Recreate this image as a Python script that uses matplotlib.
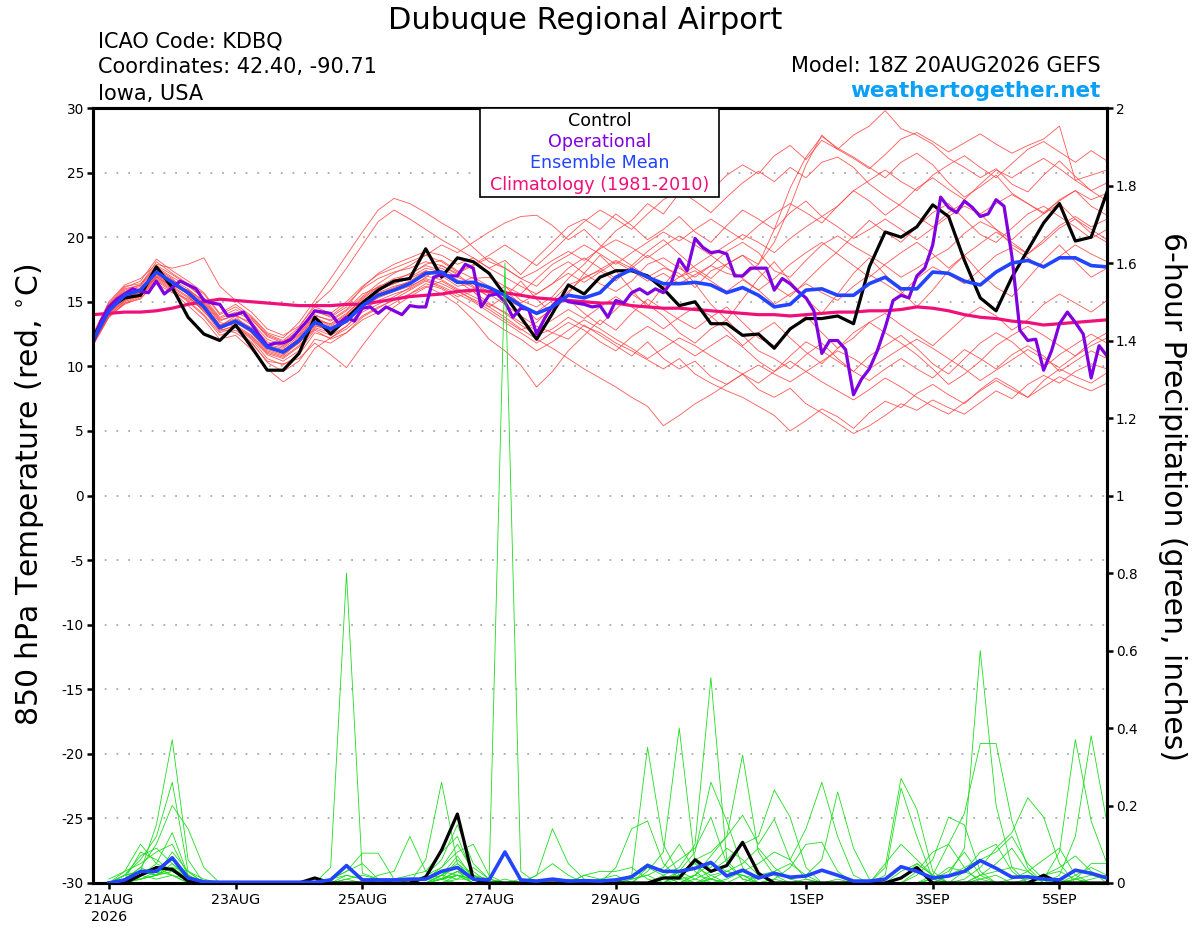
import matplotlib
matplotlib.use("Agg")
import matplotlib.pyplot as plt
import matplotlib.patches as mpatches
import pandas as pd

plt.rcParams["font.family"] = ["DejaVu Sans"]
plt.rcParams["mathtext.fontset"] = "dejavusans"

# 6-hourly GEFS output, 18Z 20AUG2026 run
times = pd.date_range("2026-08-20 18:00", periods=65, freq="6h")
times_3h = pd.date_range("2026-08-20 18:00", periods=129, freq="3h")
precip_times = times[1:]

# 850 hPa temperature (C)
control_t = [12.2, 14.5, 15.3, 15.5, 17.7, 16.1, 13.8, 12.5, 12.0, 13.2,
             11.5, 9.7, 9.7, 11.0, 13.8, 12.5, 13.7, 14.9, 15.9, 16.6,
             16.8, 19.1, 16.9, 18.4, 18.1, 17.2, 15.5, 13.8, 12.1, 14.1,
             16.3, 15.6, 16.9, 17.4, 17.4, 17.0, 16.0, 14.7, 15.0, 13.3,
             13.3, 12.4, 12.5, 11.4, 12.9, 13.7, 13.7, 13.9, 13.3, 17.7,
             20.4, 20.0, 20.8, 22.5, 21.6, 18.2, 15.3, 14.3, 16.9, 19.0,
             21.1, 22.6, 19.7, 20.0, 23.5]

mean_t = [12.0, 14.3, 15.5, 15.9, 17.3, 16.5, 15.7, 14.6, 13.0, 13.5,
          12.8, 11.5, 11.1, 12.0, 13.4, 12.9, 13.5, 14.7, 15.5, 15.9,
          16.4, 17.2, 17.3, 16.5, 16.5, 16.1, 15.5, 14.7, 14.1, 14.6,
          15.5, 15.3, 15.7, 16.9, 17.5, 16.9, 16.4, 16.4, 16.5, 16.3,
          15.7, 16.1, 15.5, 14.6, 14.8, 15.9, 16.0, 15.5, 15.5, 16.4,
          16.9, 16.0, 16.0, 17.3, 17.2, 16.6, 16.3, 17.3, 18.0, 18.2,
          17.7, 18.4, 18.4, 17.8, 17.7]

climo_t = [14.0, 14.1, 14.2, 14.2, 14.3, 14.5, 14.8, 15.0, 15.2, 15.1,
           15.0, 14.9, 14.8, 14.7, 14.7, 14.7, 14.8, 14.8, 15.0, 15.2,
           15.4, 15.5, 15.6, 15.8, 15.9, 15.8, 15.7, 15.5, 15.3, 15.2,
           15.1, 15.0, 14.9, 14.9, 14.7, 14.6, 14.5, 14.5, 14.4, 14.3,
           14.2, 14.1, 14.0, 14.0, 13.9, 14.0, 14.1, 14.2, 14.2, 14.3,
           14.3, 14.4, 14.6, 14.5, 14.3, 14.0, 13.8, 13.7, 13.5, 13.4,
           13.2, 13.3, 13.4, 13.5, 13.6]

# operational run, 3-hourly
operational_t = [11.8, 13.5, 14.6, 15.2, 15.6, 16.0, 15.8, 15.7, 16.6, 15.6,
                 16.1, 16.6, 16.3, 16.0, 15.1, 14.9, 14.8, 13.9, 14.0, 14.2,
                 13.3, 12.4, 11.6, 11.8, 11.8, 12.1, 12.8, 13.5, 14.3, 14.2,
                 14.1, 13.3, 13.8, 13.5, 14.5, 14.6, 14.1, 14.6, 14.3, 14.0,
                 14.7, 14.6, 14.6, 16.9, 17.1, 17.0, 17.0, 17.9, 17.6, 14.6,
                 15.5, 15.6, 15.0, 13.8, 14.5, 14.4, 12.5, 13.7, 14.7, 15.3,
                 15.0, 14.9, 14.8, 14.6, 14.7, 13.8, 15.1, 14.9, 15.7, 16.0,
                 15.6, 16.0, 15.7, 16.5, 18.3, 17.4, 19.9, 19.2, 18.8, 18.9,
                 18.7, 17.0, 17.0, 17.6, 17.6, 17.6, 15.9, 16.8, 16.4, 15.8,
                 15.3, 14.3, 11.0, 12.0, 12.0, 11.3, 7.8, 9.0, 9.8, 11.2,
                 13.0, 15.1, 15.5, 15.3, 17.0, 17.6, 19.4, 23.1, 22.3, 21.9,
                 22.8, 22.3, 21.6, 21.8, 22.9, 22.4, 18.5, 12.8, 12.0, 12.1,
                 9.7, 11.2, 13.3, 14.2, 13.4, 12.5, 9.1, 11.6, 10.8]

temp_members = [
    [12.1, 14.6, 15.8, 16.2, 17.6, 16.8, 15.5, 14.2, 13.1, 13.9, 12.6, 11.2, 10.8,
     11.9, 13.6, 13.3, 14.1, 15.2, 16.1, 16.8, 17.1, 17.9, 18.2, 17.4, 16.8, 16.9,
     16.2, 15.1, 14.6, 15.4, 16.8, 17.9, 19.2, 20.5, 21.3, 22.6, 21.8, 23.4, 24.1,
     23.6, 24.8, 25.6, 24.9, 26.3, 27.1, 26.0, 27.5, 26.8, 27.9, 28.6, 29.8, 28.4,
     27.9, 27.2, 26.1, 25.4, 24.6, 25.3, 24.1, 23.5, 24.8, 25.9, 24.7, 23.6, 24.2],
    [11.8, 13.9, 15.1, 15.6, 16.9, 16.2, 15.9, 14.9, 13.4, 13.1, 12.2, 10.9, 10.4,
     11.2, 12.8, 12.1, 12.6, 13.8, 14.5, 15.2, 15.9, 16.6, 16.1, 15.4, 15.8, 14.9,
     14.1, 13.2, 12.4, 12.9, 13.8, 13.1, 12.6, 11.8, 11.2, 10.5, 9.8, 10.6, 9.4,
     8.7, 8.1, 7.6, 6.9, 6.2, 5.0, 5.8, 6.7, 6.1, 5.2, 6.4, 7.3, 6.8,
     7.9, 8.6, 7.8, 7.1, 8.2, 9.1, 8.4, 7.6, 8.9, 9.8, 9.2, 8.7, 9.5],
    [12.3, 14.8, 16.1, 16.6, 18.3, 17.4, 16.6, 15.7, 14.1, 14.8, 13.9, 12.6, 12.2,
     13.4, 15.1, 16.8, 18.6, 20.4, 22.1, 23.0, 22.6, 21.9, 21.1, 20.4, 19.2, 18.1,
     17.6, 16.8, 16.2, 17.4, 18.1, 17.2, 16.4, 15.8, 16.6, 17.9, 18.4, 17.6, 16.9,
     17.8, 18.9, 19.6, 18.8, 17.4, 16.9, 18.2, 19.4, 20.1, 19.3, 18.6, 17.8, 16.9,
     17.6, 18.4, 19.1, 20.3, 21.2, 20.6, 19.4, 18.7, 19.8, 20.9, 21.6, 20.8, 21.4],
    [11.6, 13.8, 14.9, 15.2, 16.6, 15.8, 14.7, 13.6, 12.1, 12.4, 11.3, 9.8, 8.8,
     9.6, 11.4, 12.2, 13.1, 14.2, 14.8, 15.4, 16.1, 16.9, 17.8, 17.1, 16.2, 15.4,
     15.9, 14.8, 13.6, 14.4, 15.8, 16.9, 17.4, 16.6, 17.8, 16.9, 17.6, 17.2, 16.1,
     17.4, 17.9, 18.6, 17.9, 20.6, 23.8, 26.2, 27.8, 26.9, 26.2, 25.4, 24.6, 25.8,
     26.5, 25.6, 24.2, 23.1, 23.9, 24.8, 23.4, 22.6, 21.8, 22.9, 23.6, 22.4, 21.7],
    [12.0, 14.2, 15.3, 15.8, 17.1, 16.4, 15.9, 15.1, 13.6, 13.9, 13.4, 12.1, 11.6,
     12.4, 13.9, 13.6, 14.4, 15.6, 16.1, 16.4, 16.8, 17.4, 17.0, 16.2, 16.4, 15.6,
     14.8, 13.9, 13.1, 12.6, 12.1, 13.2, 12.4, 11.6, 10.8, 11.9, 10.6, 9.8, 10.4,
     9.2, 8.6, 9.4, 8.2, 7.6, 8.3, 7.1, 6.4, 5.6, 4.8, 5.4, 6.2, 7.1,
     6.6, 7.4, 6.8, 6.3, 7.2, 8.1, 7.5, 8.6, 9.3, 8.7, 9.6, 10.2, 9.8],
    [12.4, 14.9, 16.2, 16.4, 17.8, 17.1, 16.3, 15.2, 13.7, 14.2, 13.6, 12.4, 11.9,
     12.8, 14.3, 13.8, 14.6, 16.1, 17.2, 17.9, 18.4, 18.9, 18.6, 17.9, 18.4, 17.6,
     18.2, 17.1, 18.4, 19.6, 20.8, 21.4, 20.6, 21.8, 20.9, 19.8, 20.6, 21.6, 20.4,
     19.6, 20.9, 22.1, 21.4, 20.6, 21.9, 22.8, 21.6, 22.4, 23.6, 22.8, 21.7, 22.6,
     23.8, 24.6, 23.7, 22.9, 24.1, 25.2, 24.6, 25.4, 26.1, 25.3, 24.4, 23.6, 22.8],
    [11.9, 14.1, 15.2, 15.4, 16.8, 16.0, 15.1, 14.0, 12.6, 13.0, 12.1, 10.6, 10.1,
     10.9, 12.6, 12.2, 12.9, 13.9, 14.6, 15.1, 15.6, 16.2, 15.6, 14.8, 13.6, 12.1,
     11.2, 10.1, 8.4, 9.6, 11.2, 12.4, 13.6, 12.8, 14.1, 15.2, 14.4, 13.6, 12.9,
     13.8, 14.6, 13.4, 12.2, 11.6, 12.8, 13.9, 12.6, 11.4, 12.2, 13.4, 14.1, 13.2,
     12.4, 11.6, 12.7, 13.8, 14.6, 13.9, 12.8, 13.6, 14.8, 15.6, 14.9, 14.2, 15.1],
    [12.2, 14.4, 15.6, 16.0, 17.5, 16.7, 16.0, 15.0, 13.5, 14.0, 13.2, 11.9, 11.5,
     12.5, 14.0, 13.5, 14.3, 15.4, 16.4, 17.2, 17.8, 18.6, 19.4, 18.8, 19.6, 20.4,
     21.1, 21.6, 21.7, 20.9, 19.8, 20.6, 19.4, 18.6, 17.8, 18.9, 19.8, 18.7, 17.6,
     16.8, 17.9, 18.6, 17.4, 16.2, 15.4, 16.6, 17.8, 18.9, 20.1, 21.3, 20.4, 19.6,
     20.8, 21.9, 22.6, 21.4, 20.2, 19.6, 20.7, 21.8, 22.4, 21.6, 20.8, 19.9, 20.6],
    [11.7, 13.9, 14.8, 15.3, 16.4, 15.7, 15.2, 14.4, 12.9, 12.6, 11.8, 10.4, 10.2,
     10.6, 11.8, 10.9, 9.9, 11.6, 13.2, 14.6, 15.4, 16.1, 16.6, 15.9, 15.1, 14.4,
     13.6, 12.8, 13.4, 14.6, 15.2, 14.1, 13.2, 14.4, 15.6, 14.8, 13.9, 12.6, 11.8,
     12.9, 13.6, 12.4, 11.2, 10.6, 9.8, 10.9, 11.8, 10.6, 9.6, 10.8, 11.6, 12.4,
     11.4, 10.2, 9.4, 10.6, 11.8, 12.6, 11.9, 10.8, 9.9, 10.9, 11.7, 12.5, 11.8],
    [12.0, 14.3, 15.4, 16.1, 17.2, 16.6, 15.6, 14.8, 13.2, 13.3, 12.9, 11.6, 11.3,
     12.1, 13.2, 12.7, 13.8, 14.9, 15.7, 16.2, 16.5, 17.1, 17.6, 16.9, 16.4, 15.8,
     15.2, 14.6, 14.2, 15.1, 16.3, 16.8, 17.5, 18.2, 17.6, 16.8, 16.1, 16.9, 17.4,
     16.6, 15.8, 16.7, 15.9, 14.8, 15.6, 16.4, 15.7, 15.1, 16.2, 17.1, 16.4, 15.6,
     16.8, 17.7, 17.1, 16.4, 17.5, 18.6, 19.2, 18.4, 17.6, 18.5, 19.4, 18.7, 18.1],
    [12.1, 14.5, 15.7, 15.8, 17.4, 16.6, 15.8, 14.7, 13.0, 13.6, 12.9, 11.4, 11.0,
     11.8, 13.3, 12.8, 13.6, 14.8, 15.6, 16.1, 16.6, 17.4, 17.1, 16.4, 16.9, 16.2,
     15.6, 14.9, 15.6, 16.4, 17.2, 16.5, 17.3, 18.1, 17.4, 16.6, 17.2, 16.4, 17.1,
     17.8, 17.2, 16.9, 17.9, 19.6, 22.4, 25.6, 27.9, 26.8, 26.1, 25.3, 26.4, 27.6,
     28.1, 27.4, 26.6, 27.3, 28.0, 27.2, 26.5, 27.1, 27.6, 28.6, 24.4, 24.8, 25.2],
    [11.8, 14.0, 15.0, 15.5, 16.9, 16.1, 15.3, 14.5, 12.8, 13.1, 12.3, 11.0, 10.6,
     11.5, 12.9, 12.4, 13.1, 14.4, 15.1, 15.6, 16.0, 16.7, 16.2, 15.6, 15.0, 14.2,
     13.4, 12.6, 11.8, 12.6, 13.4, 12.8, 11.9, 11.2, 12.3, 13.1, 12.4, 11.6, 10.8,
     11.6, 12.4, 11.5, 10.4, 9.6, 10.8, 11.9, 11.2, 10.4, 9.6, 8.9, 9.8, 10.6,
     9.8, 9.1, 10.2, 11.3, 10.6, 9.8, 10.9, 11.6, 10.8, 9.6, 10.4, 11.2, 10.6],
    [12.5, 15.0, 16.3, 16.8, 17.9, 17.6, 17.9, 18.4, 16.2, 15.1, 14.2, 12.9, 12.4,
     13.1, 14.6, 14.1, 15.0, 16.2, 17.1, 17.6, 18.1, 18.6, 18.1, 17.3, 17.9, 18.6,
     19.4, 18.6, 17.8, 18.9, 20.1, 21.2, 22.1, 21.4, 20.6, 21.8, 22.9, 23.6, 22.8,
     21.9, 23.1, 24.2, 25.1, 24.3, 25.4, 24.6, 25.8, 26.2, 25.4, 24.1, 23.2, 22.4,
     21.6, 20.8, 21.9, 22.7, 21.8, 20.6, 19.8, 20.9, 21.8, 22.6, 21.4, 20.3, 19.6],
    [11.9, 14.1, 15.1, 15.6, 17.0, 16.2, 15.4, 14.3, 12.7, 13.2, 12.4, 11.1, 10.7,
     11.6, 13.0, 12.6, 13.4, 14.6, 15.3, 15.8, 16.2, 16.8, 16.4, 15.8, 15.2, 14.6,
     13.8, 12.9, 12.1, 11.4, 10.6, 9.8, 9.1, 8.4, 7.6, 6.9, 5.4, 6.2, 7.1,
     7.8, 8.6, 9.4, 10.1, 9.4, 8.8, 9.6, 10.4, 11.2, 10.6, 9.8, 10.6, 11.4,
     12.1, 11.4, 10.6, 9.8, 8.9, 9.7, 10.5, 11.3, 10.6, 9.9, 10.8, 11.6, 12.2],
    [12.2, 14.7, 16.0, 16.3, 17.7, 16.9, 16.2, 15.3, 13.8, 14.4, 13.7, 12.3, 11.8,
     12.7, 14.2, 13.9, 14.8, 16.0, 16.8, 17.3, 17.6, 18.1, 17.8, 17.2, 17.8, 18.4,
     17.6, 16.8, 17.4, 18.2, 18.9, 18.2, 19.1, 19.8, 19.2, 18.4, 19.3, 20.1, 19.4,
     18.6, 19.4, 20.2, 19.6, 18.8, 19.9, 20.8, 21.6, 20.8, 19.9, 20.6, 21.4, 20.6,
     19.8, 20.7, 21.6, 22.4, 21.8, 22.6, 23.3, 22.6, 21.9, 22.8, 23.6, 22.9, 23.4],
    [12.0, 14.4, 15.4, 15.7, 17.3, 16.3, 15.6, 14.6, 13.1, 13.6, 12.7, 11.5, 11.2,
     12.2, 13.8, 13.2, 14.0, 15.3, 16.2, 16.6, 17.2, 17.8, 17.4, 16.6, 15.8, 14.6,
     15.4, 16.6, 15.2, 14.1, 15.6, 17.2, 18.6, 17.4, 15.9, 14.6, 16.2, 17.8, 16.4,
     14.8, 13.6, 15.2, 16.8, 18.1, 16.6, 15.2, 14.1, 15.6, 17.2, 18.4, 17.1, 15.8,
     14.6, 15.9, 17.4, 18.6, 17.2, 16.1, 15.4, 16.8, 18.2, 19.4, 18.1, 16.9, 17.6],
    [12.1, 14.3, 15.5, 16.0, 17.2, 16.5, 15.8, 14.8, 13.2, 13.7, 13.0, 11.7, 11.4,
     12.3, 13.7, 13.1, 13.9, 15.1, 15.9, 16.4, 16.9, 17.6, 17.3, 16.7, 16.1, 15.4,
     16.2, 15.6, 16.8, 17.9, 18.6, 19.4, 18.7, 17.9, 18.8, 19.6, 20.4, 19.7, 20.6,
     21.4, 20.6, 19.8, 20.9, 21.8, 22.6, 21.9, 21.1, 22.4, 23.6, 24.4, 25.2, 24.3,
     23.6, 24.8, 25.6, 26.3, 25.4, 24.6, 25.7, 26.8, 27.4, 26.6, 25.8, 26.7, 25.9],
    [11.9, 14.2, 15.3, 15.7, 17.0, 16.4, 15.6, 14.5, 12.9, 13.4, 12.6, 11.3, 10.9,
     11.8, 13.1, 12.9, 13.7, 14.8, 15.6, 16.0, 16.5, 17.0, 16.7, 16.0, 15.4, 14.8,
     14.2, 13.4, 12.8, 13.6, 14.4, 13.7, 14.6, 15.4, 14.6, 13.8, 12.9, 13.8, 14.6,
     13.9, 12.8, 11.6, 12.6, 13.4, 12.2, 11.1, 10.2, 11.4, 12.6, 13.4, 12.6, 11.8,
     10.9, 9.8, 8.6, 9.4, 10.4, 11.6, 12.4, 13.1, 12.4, 11.6, 10.8, 11.9, 12.6],
    [12.3, 14.6, 15.9, 16.3, 18.1, 17.2, 16.4, 15.6, 14.0, 14.6, 13.8, 12.5, 12.0,
     13.0, 14.8, 15.9, 17.6, 19.4, 21.2, 22.1, 21.4, 20.6, 19.8, 19.1, 18.4, 17.6,
     16.9, 16.2, 15.6, 16.4, 17.6, 18.4, 17.6, 16.8, 17.6, 18.6, 17.8, 16.9, 17.8,
     18.6, 17.7, 16.8, 15.9, 16.8, 17.9, 18.8, 19.6, 18.7, 17.8, 16.9, 17.9, 18.8,
     19.6, 18.7, 17.6, 18.6, 19.5, 20.4, 19.6, 18.7, 19.6, 20.7, 21.4, 20.6, 19.8],
    [11.7, 13.8, 14.9, 15.4, 16.7, 15.9, 15.0, 13.9, 12.4, 12.8, 11.9, 10.3, 9.6,
     10.4, 12.1, 11.8, 12.6, 13.6, 14.2, 14.9, 15.6, 16.4, 16.0, 15.2, 14.4, 13.6,
     12.8, 12.1, 11.2, 11.9, 12.8, 13.6, 12.9, 12.1, 11.4, 10.6, 11.4, 12.2, 11.6,
     10.8, 10.1, 9.4, 8.7, 9.6, 10.4, 9.6, 8.8, 8.1, 7.4, 8.2, 9.1, 8.4,
     7.6, 6.9, 6.3, 7.2, 8.1, 8.9, 8.2, 7.6, 8.4, 9.2, 8.6, 8.1, 8.7],
]

# 6-hour precipitation (inches), valid 21AUG 00Z onward
control_p = [0, 0, 0.02, 0.04, 0.035, 0.005, 0, 0,
             0, 0, 0, 0, 0, 0.013, 0, 0,
             0, 0, 0, 0, 0.015, 0.085, 0.178, 0.01,
             0, 0, 0, 0, 0, 0, 0, 0,
             0, 0, 0, 0.013, 0.013, 0.06, 0.03, 0.045,
             0.105, 0.025, 0, 0, 0, 0, 0, 0,
             0, 0, 0.013, 0.04, 0, 0, 0, 0,
             0, 0, 0, 0.02, 0, 0, 0, 0]

mean_p = [0, 0.008, 0.03, 0.03, 0.065, 0.013, 0.003, 0.002,
          0.002, 0.002, 0.002, 0.002, 0.002, 0.002, 0.008, 0.045,
          0.008, 0.008, 0.008, 0.01, 0.01, 0.03, 0.04, 0.01,
          0.008, 0.08, 0.008, 0.005, 0.01, 0.005, 0.006, 0.005,
          0.008, 0.016, 0.045, 0.03, 0.03, 0.038, 0.053, 0.018,
          0.033, 0.013, 0.025, 0.015, 0.018, 0.033, 0.02, 0.005,
          0.005, 0.01, 0.042, 0.03, 0.013, 0.018, 0.03, 0.058,
          0.038, 0.015, 0.016, 0.01, 0.008, 0.033, 0.025, 0.013]

precip_members = [
    [0, 0.01, 0.03, 0.15, 0.37, 0.06, 0, 0, 0, 0, 0, 0, 0, 0, 0.01, 0.02,
     0.01, 0, 0, 0, 0.01, 0.03, 0.02, 0, 0, 0, 0.01, 0, 0, 0, 0, 0,
     0, 0.02, 0.35, 0.10, 0.02, 0, 0.01, 0, 0, 0, 0.01, 0, 0, 0, 0, 0,
     0, 0.04, 0.27, 0.19, 0.03, 0, 0, 0.01, 0.02, 0, 0, 0, 0.01, 0, 0, 0],
    [0, 0.02, 0.06, 0.12, 0.26, 0.03, 0, 0, 0, 0, 0, 0, 0, 0, 0, 0.01,
     0.02, 0.01, 0, 0, 0, 0.02, 0.04, 0.01, 0, 0, 0, 0, 0, 0.01, 0, 0,
     0, 0, 0.03, 0.08, 0.40, 0.05, 0.01, 0, 0.02, 0, 0, 0, 0.01, 0, 0, 0,
     0, 0.02, 0.245, 0.12, 0.01, 0, 0, 0, 0, 0.01, 0.03, 0, 0, 0, 0, 0],
    [0, 0.01, 0.04, 0.10, 0.20, 0.14, 0.04, 0, 0, 0, 0, 0, 0, 0, 0, 0,
     0, 0, 0.01, 0.02, 0.03, 0.08, 0.12, 0.02, 0, 0.01, 0, 0, 0, 0, 0, 0,
     0, 0, 0, 0.02, 0.04, 0.10, 0.53, 0.06, 0.01, 0, 0, 0, 0, 0, 0.01, 0,
     0, 0, 0, 0.02, 0.06, 0.17, 0.15, 0.03, 0, 0, 0, 0, 0, 0.01, 0, 0],
    [0, 0.03, 0.10, 0.05, 0.13, 0.02, 0, 0, 0, 0, 0, 0, 0, 0, 0, 0,
     0, 0, 0, 0, 0.01, 0.02, 0.07, 0.01, 0, 0, 0, 0, 0, 0, 0, 0.01,
     0.02, 0, 0, 0, 0.03, 0.08, 0.26, 0.16, 0.04, 0, 0, 0, 0, 0, 0, 0,
     0, 0, 0, 0, 0, 0.02, 0.09, 0.60, 0.20, 0.04, 0, 0, 0, 0.01, 0, 0],
    [0, 0.02, 0.07, 0.09, 0.05, 0.01, 0, 0, 0, 0, 0, 0, 0, 0, 0, 0,
     0, 0, 0, 0, 0.02, 0.04, 0.10, 0.03, 0, 0, 0, 0, 0.01, 0, 0, 0,
     0, 0, 0, 0, 0, 0.02, 0.07, 0.12, 0.33, 0.08, 0.02, 0, 0, 0, 0, 0,
     0, 0, 0, 0, 0.02, 0.10, 0.18, 0.36, 0.36, 0.16, 0.04, 0, 0, 0, 0, 0],
    [0, 0.01, 0.08, 0.06, 0.03, 0.01, 0, 0, 0, 0, 0, 0, 0, 0, 0, 0.01,
     0, 0, 0, 0, 0, 0.01, 0.06, 0.02, 0, 0, 0, 0, 0, 0, 0, 0,
     0, 0, 0, 0, 0, 0.01, 0.03, 0.06, 0.10, 0.12, 0.24, 0.17, 0.04, 0, 0, 0,
     0, 0, 0, 0, 0, 0, 0.01, 0.04, 0.09, 0.13, 0.22, 0.17, 0.05, 0, 0, 0],
    [0.01, 0.03, 0.05, 0.08, 0.10, 0.02, 0, 0, 0, 0, 0, 0, 0, 0, 0, 0,
     0, 0, 0, 0, 0, 0.02, 0.01, 0.04, 0.01, 0, 0, 0, 0, 0, 0.02, 0.01,
     0, 0, 0.04, 0.02, 0, 0, 0, 0.01, 0.03, 0.05, 0.08, 0.06, 0.14, 0.26, 0.12, 0.02,
     0, 0, 0, 0, 0.01, 0, 0, 0.02, 0.05, 0.09, 0.03, 0, 0, 0, 0.01, 0.02],
    [0, 0.01, 0.02, 0.04, 0.06, 0.02, 0, 0, 0, 0, 0, 0, 0, 0, 0, 0,
     0, 0, 0, 0, 0.01, 0.01, 0.02, 0.01, 0, 0, 0, 0, 0, 0, 0, 0,
     0, 0.01, 0.02, 0, 0.03, 0.01, 0, 0, 0, 0.02, 0.03, 0.01, 0.02, 0.06, 0.235, 0.09,
     0.01, 0, 0, 0, 0, 0, 0, 0, 0, 0, 0, 0.01, 0.08, 0.37, 0.16, 0.05],
    [0, 0.01, 0.04, 0.02, 0.08, 0.03, 0, 0, 0, 0, 0, 0, 0, 0, 0, 0,
     0, 0, 0, 0, 0, 0.02, 0.05, 0.02, 0, 0, 0, 0, 0.01, 0, 0, 0,
     0.04, 0.14, 0.16, 0.05, 0.01, 0, 0, 0, 0, 0, 0, 0, 0, 0, 0, 0,
     0, 0, 0.03, 0.05, 0.02, 0, 0, 0, 0, 0, 0, 0, 0.02, 0.12, 0.38, 0.155],
    [0, 0.02, 0.03, 0.02, 0.04, 0.01, 0, 0, 0, 0, 0, 0, 0, 0, 0, 0,
     0, 0, 0, 0, 0, 0.01, 0.03, 0.01, 0, 0, 0, 0, 0, 0, 0, 0,
     0, 0.02, 0.05, 0.03, 0.06, 0.09, 0.17, 0.05, 0.01, 0, 0, 0, 0, 0, 0, 0,
     0, 0, 0, 0, 0, 0, 0, 0, 0, 0, 0.01, 0.02, 0.03, 0.01, 0.05, 0.05],
    [0, 0.01, 0.02, 0.03, 0.02, 0, 0, 0, 0, 0, 0, 0, 0, 0, 0.04, 0.80,
     0.025, 0.01, 0, 0, 0, 0.01, 0.02, 0, 0, 0, 0, 0, 0, 0, 0, 0,
     0, 0, 0, 0, 0.02, 0.04, 0.02, 0, 0, 0, 0, 0, 0, 0, 0, 0,
     0, 0, 0, 0.03, 0.08, 0.10, 0.04, 0, 0, 0, 0, 0, 0, 0, 0, 0],
    [0, 0, 0.01, 0.02, 0.03, 0.01, 0, 0, 0, 0, 0, 0, 0, 0, 0.01, 0.03,
     0.077, 0.077, 0.01, 0, 0, 0, 0.02, 0.01, 0, 0, 0, 0, 0, 0, 0, 0,
     0, 0, 0, 0.01, 0.02, 0.06, 0.08, 0.12, 0.175, 0.10, 0.165, 0.06, 0.01, 0, 0, 0,
     0, 0, 0, 0, 0.01, 0.03, 0.08, 0.02, 0, 0, 0, 0, 0, 0, 0, 0],
    [0, 0.01, 0.02, 0.01, 0.02, 0.01, 0, 0, 0, 0, 0, 0, 0, 0, 0.01, 0.03,
     0.05, 0.01, 0, 0, 0, 0.01, 0.03, 0, 0, 0, 0, 0, 0, 0, 0, 0,
     0, 0, 0, 0, 0, 0.02, 0.05, 0.03, 0.02, 0, 0.01, 0.04, 0.10, 0.105, 0.03, 0,
     0, 0.05, 0.10, 0.06, 0.02, 0, 0, 0, 0, 0, 0, 0, 0, 0, 0, 0],
    [0, 0.01, 0.03, 0.04, 0.02, 0, 0, 0, 0, 0, 0, 0, 0, 0, 0, 0,
     0, 0.02, 0.03, 0.12, 0.03, 0.01, 0, 0, 0, 0, 0, 0, 0, 0, 0, 0,
     0, 0.01, 0.02, 0.04, 0.10, 0.03, 0, 0, 0, 0, 0, 0, 0, 0, 0, 0,
     0, 0, 0, 0, 0, 0, 0, 0.02, 0.03, 0.04, 0.03, 0.06, 0.09, 0.02, 0, 0],
    [0, 0.01, 0.02, 0.05, 0.03, 0.01, 0, 0, 0, 0, 0, 0, 0, 0, 0, 0,
     0, 0, 0, 0, 0.06, 0.26, 0.05, 0.01, 0, 0, 0, 0, 0, 0, 0, 0,
     0, 0, 0, 0.01, 0.03, 0.05, 0.04, 0.09, 0.06, 0.02, 0, 0, 0, 0, 0, 0,
     0, 0, 0, 0, 0, 0.02, 0.04, 0.06, 0.08, 0.12, 0.05, 0.01, 0, 0, 0, 0],
    [0, 0.02, 0.03, 0.02, 0.05, 0.02, 0, 0, 0, 0, 0, 0, 0, 0, 0, 0.02,
     0.01, 0, 0, 0, 0.02, 0.06, 0.15, 0.05, 0.01, 0, 0, 0, 0, 0, 0.02, 0.03,
     0.03, 0.04, 0.01, 0, 0, 0, 0.02, 0.03, 0.02, 0.01, 0.03, 0.05, 0.02, 0, 0, 0,
     0, 0, 0.01, 0.05, 0.02, 0, 0, 0, 0, 0, 0, 0, 0, 0.02, 0.04, 0.02],
    [0, 0.01, 0.01, 0.03, 0.04, 0.01, 0, 0, 0, 0, 0, 0, 0, 0, 0, 0,
     0, 0, 0, 0, 0.01, 0.04, 0.08, 0.10, 0.02, 0, 0, 0, 0, 0, 0, 0,
     0, 0, 0, 0, 0, 0, 0.01, 0.03, 0.05, 0.09, 0.04, 0.01, 0, 0, 0, 0,
     0, 0, 0, 0, 0, 0, 0, 0, 0, 0, 0, 0, 0, 0.01, 0.02, 0.01],
    [0, 0, 0.01, 0.02, 0.03, 0.01, 0, 0, 0, 0, 0, 0, 0, 0, 0, 0,
     0, 0, 0, 0, 0, 0, 0.01, 0.01, 0.01, 1.60, 0.03, 0, 0, 0, 0, 0,
     0, 0, 0, 0, 0.01, 0.02, 0.01, 0, 0, 0, 0, 0, 0, 0, 0, 0,
     0, 0, 0, 0, 0, 0, 0.03, 0.08, 0.10, 0.03, 0, 0, 0, 0, 0, 0],
    [0, 0.01, 0.02, 0.03, 0.06, 0.02, 0, 0, 0, 0, 0, 0, 0, 0, 0, 0,
     0, 0, 0, 0, 0, 0.01, 0.02, 0.01, 0, 0, 0, 0.02, 0.14, 0.05, 0.01, 0,
     0, 0, 0, 0, 0, 0, 0, 0, 0, 0, 0, 0, 0, 0, 0, 0,
     0, 0, 0, 0, 0, 0, 0, 0, 0, 0, 0, 0.02, 0.04, 0.07, 0.03, 0],
    [0, 0.01, 0.01, 0.02, 0.04, 0.03, 0.01, 0, 0, 0, 0, 0, 0, 0, 0, 0,
     0, 0, 0, 0, 0, 0.01, 0.03, 0.02, 0.01, 0, 0, 0.02, 0.05, 0.02, 0, 0,
     0, 0, 0, 0, 0, 0, 0, 0, 0, 0, 0, 0, 0, 0, 0, 0,
     0, 0, 0, 0, 0.01, 0.04, 0.03, 0.01, 0, 0, 0, 0, 0, 0, 0, 0],
]

tick_dates = ["2026-08-21", "2026-08-23", "2026-08-25", "2026-08-27",
              "2026-08-29", "2026-09-01", "2026-09-03", "2026-09-05"]
tick_labels = ["21AUG\n2026", "23AUG", "25AUG", "27AUG",
               "29AUG", "1SEP", "3SEP", "5SEP"]
temp_ticks = [-30, -25, -20, -15, -10, -5, 0, 5, 10, 15, 20, 25, 30]
precip_ticks = [0, 0.2, 0.4, 0.6, 0.8, 1.0, 1.2, 1.4, 1.6, 1.8, 2.0]
precip_tick_labels = ["0", "0.2", "0.4", "0.6", "0.8", "1",
                      "1.2", "1.4", "1.6", "1.8", "2"]

C_RED = "#ff4545"
C_GREEN = "#20dd20"
C_OPER = "#8000e0"
C_MEAN = "#2244ff"
C_CLIMO = "#f0107a"
C_SITE = "#0aa0f5"

W, H = 1200, 927
fig = plt.figure(figsize=(W / 100, H / 100), dpi=100)
ax = fig.add_axes([93 / W, 1 - 883 / H, (1107 - 93) / W, (883 - 108) / H])
ax2 = ax.twinx()

for m in temp_members:
    ax.plot(times, m, color=C_RED, lw=0.6, alpha=0.9, zorder=2)
ax.plot(times, climo_t, color=C_CLIMO, lw=2.3, zorder=3)
ax.plot(times, control_t, color="black", lw=2.3, zorder=4)
ax.plot(times_3h, operational_t, color=C_OPER, lw=2.3, zorder=5)
ax.plot(times, mean_t, color=C_MEAN, lw=2.6, zorder=6)

for m in precip_members:
    ax2.plot(precip_times, m, color=C_GREEN, lw=0.6, zorder=2)
ax2.plot(precip_times, control_p, color="black", lw=2.3, zorder=4)
ax2.plot(precip_times, mean_p, color=C_MEAN, lw=2.6, zorder=5)

ax.set_xlim(times[0], times[-1])
ax.set_ylim(-30, 30)
ax2.set_ylim(0, 2)

ax.set_yticks(temp_ticks)
ax.set_yticklabels([str(t) for t in temp_ticks])
ax2.set_yticks(precip_ticks)
ax2.set_yticklabels(precip_tick_labels)
ax.set_xticks(pd.to_datetime(tick_dates))
ax.set_xticklabels(tick_labels, multialignment="center")

for y in temp_ticks[1:-1]:
    ax.axhline(y, color="#aaaaaa", lw=1.3, ls=(0, (1, 5.5)), zorder=1)

for a in (ax, ax2):
    for s in a.spines.values():
        s.set_linewidth(2.2)
    a.tick_params(direction="out", length=4.5, width=1.8, labelsize=9.8, pad=2)
ax.tick_params(axis="x", labelsize=10.3, pad=3)

# legend box
fig.patches.append(mpatches.Rectangle((480 / W, 1 - 197 / H), 239 / W, 89 / H,
                                      transform=fig.transFigure, facecolor="white",
                                      edgecolor="black", lw=1.2, zorder=5))
legend_items = [("Control", "black", 121), ("Operational", C_OPER, 142),
                ("Ensemble Mean", C_MEAN, 163), ("Climatology (1981-2010)", C_CLIMO, 185)]
for label, col, ypx in legend_items:
    fig.text(599.5 / W, 1 - ypx / H, label, color=col, fontsize=12.6,
             ha="center", va="center", zorder=6)

# header
fig.text(585 / W, 1 - 29 / H, "Dubuque Regional Airport", fontsize=22,
         ha="center", va="baseline")
fig.text(98 / W, 1 - 47 / H, "ICAO Code: KDBQ", fontsize=15, va="baseline")
fig.text(98 / W, 1 - 73 / H, "Coordinates: 42.40, -90.71", fontsize=15, va="baseline")
fig.text(98 / W, 1 - 100 / H, "Iowa, USA", fontsize=15, va="baseline")
fig.text(1101 / W, 1 - 72 / H, "Model: 18Z 20AUG2026 GEFS", fontsize=15,
         ha="right", va="baseline")
fig.text(1101 / W, 1 - 97 / H, "weathertogether.net", fontsize=15.5, fontweight="bold",
         color=C_SITE, ha="right", va="baseline")

fig.text(30 / W, 1 - 495 / H, "850 hPa Temperature (red, $^{\\circ}$C)", fontsize=21.5,
         rotation=90, ha="center", va="center")
fig.text(1172 / W, 1 - 497 / H, "6-hour Precipitation (green, inches)", fontsize=21.5,
         rotation=270, ha="center", va="center")

fig.savefig("out.png", dpi=100)
